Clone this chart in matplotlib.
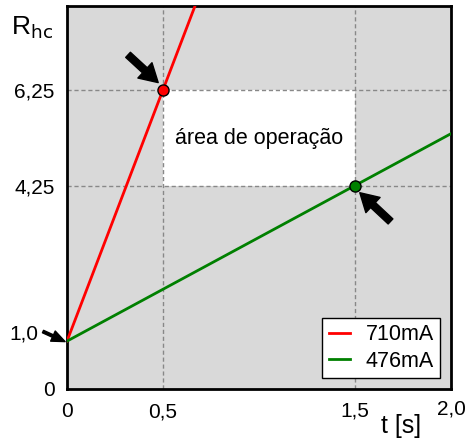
import matplotlib
matplotlib.use("Agg")
import matplotlib.pyplot as plt
from matplotlib.patches import Rectangle

plt.rcParams['font.family'] = ['Liberation Sans', 'DejaVu Sans']

# Data
t_start, t_end = 0.0, 2.0
r0 = 1.0
series_labels = ["710mA", "476mA"]
series_colors = ["#ff0000", "#008000"]
point_t = [0.5, 1.5]
point_r = [6.25, 4.25]
xticks = [0, 0.5, 1.5, 2.0]
xtick_labels = ["0", "0,5", "1,5", "2,0"]
yticks = [0, 4.25, 6.25]
ytick_labels = ["0", "4,25", "6,25"]

fig = plt.figure(figsize=(4.66, 4.41), dpi=100)
ax = fig.add_axes([67/466, 52/441, 384/466, 383/441])
ax.set_facecolor("#d9d9d9")
ax.set_xlim(0, 2.0)
ax.set_ylim(0, 8.0)

# operation area
ax.add_patch(Rectangle((point_t[0], point_r[1]), point_t[1]-point_t[0], point_r[0]-point_r[1],
                       facecolor="white", edgecolor="none", zorder=1))

# grid lines
for xv in [0.5, 1.5]:
    ax.axvline(xv, color="#888888", ls=(0, (3, 2)), lw=1, zorder=2)
for yv in [4.25, 6.25]:
    ax.axhline(yv, color="#888888", ls=(0, (3, 2)), lw=1, zorder=2)

for pt, pr, lab, col in zip(point_t, point_r, series_labels, series_colors):
    slope = (pr - r0) / pt
    ax.plot([t_start, t_end], [r0, r0 + slope * t_end], color=col, lw=2, label=lab, zorder=3)
    ax.plot([pt], [pr], 'o', color=col, mec="black", mew=1, ms=8, zorder=5)

ax.text(1.0, 5.23, "área de operação", ha="center", va="center", fontsize=15.5, zorder=4)

# arrows
big = dict(arrowstyle="simple,head_length=0.65,head_width=0.75,tail_width=0.25",
           color="black", mutation_scale=20, shrinkA=0, shrinkB=0)
ax.annotate("", xy=(0.475, 6.4), xytext=(0.318, 6.98), arrowprops=big, zorder=6)
ax.annotate("", xy=(1.525, 4.1), xytext=(1.685, 3.5), arrowprops=big, zorder=6)
ax.annotate("", xy=(-0.01, 0.99), xytext=(-0.125, 1.2),
            arrowprops=dict(arrowstyle="simple,head_length=0.6,head_width=0.5,tail_width=0.12",
                            color="black", mutation_scale=16, shrinkA=0, shrinkB=0),
            annotation_clip=False, zorder=6)

ax.set_xticks([])
ax.set_yticks(yticks)
ax.set_yticklabels(ytick_labels, fontsize=15)
ax.tick_params(axis='y', length=0, pad=9)
ax.text(-0.15, 1.15, "1,0", ha="right", va="center", fontsize=15, clip_on=False)

# x tick labels
for xv, lab, yv in zip(xticks, xtick_labels, [-0.48, -0.48, -0.45, -0.42]):
    ax.text(xv, yv, lab, ha="center", va="center", fontsize=15, clip_on=False)
ax.text(1.74, -0.78, "t [s]", ha="center", va="center", fontsize=18, clip_on=False)
ax.text(-0.18, 7.55, r"R$_{\mathrm{hc}}$", ha="center", va="center", fontsize=19, clip_on=False)

for s in ax.spines.values():
    s.set_linewidth(2)

leg = ax.legend(loc="lower right", fontsize=15.5, frameon=True, fancybox=False,
                edgecolor="black", framealpha=1, borderaxespad=0.5, handlelength=1.0,
                handletextpad=0.7, borderpad=0.3, labelspacing=0.25)
leg.get_frame().set_linewidth(1)

fig.savefig("out.png", dpi=100)
